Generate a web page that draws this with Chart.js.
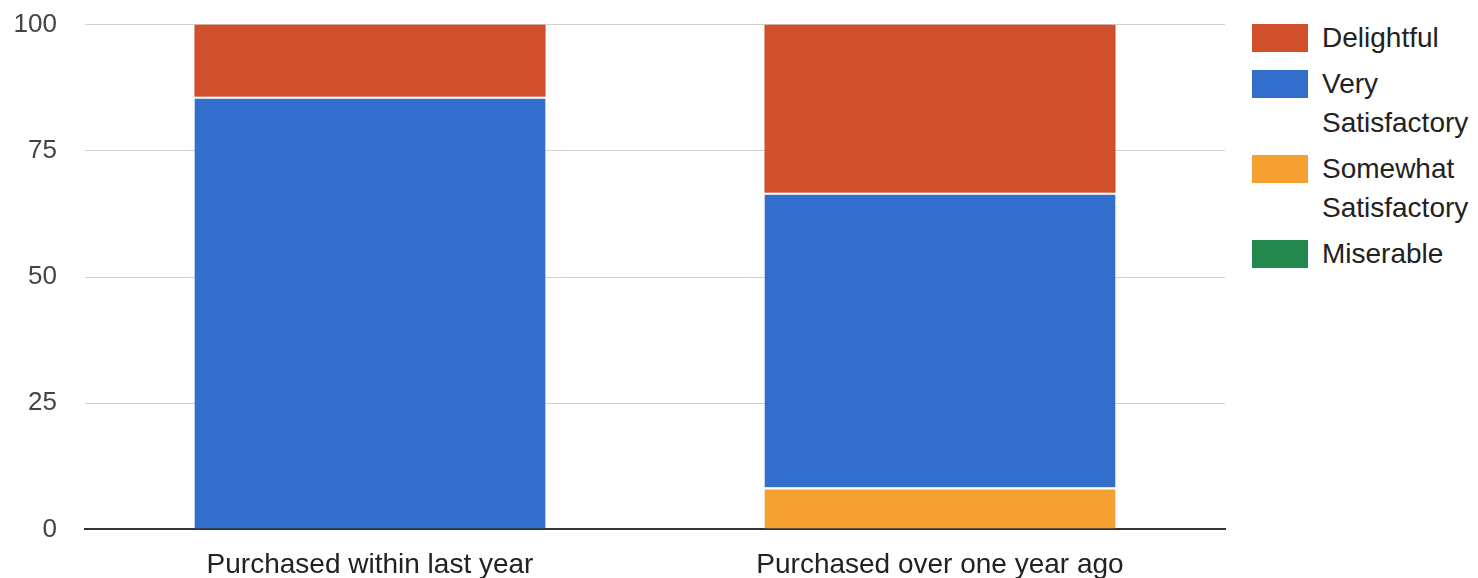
<!DOCTYPE html>
<html>
<head>
<meta charset="utf-8">
<script src="https://cdn.jsdelivr.net/npm/chart.js@4/dist/chart.umd.min.js"></script>
<style>
  body { margin: 0; background: #fff; font-family: "Liberation Sans", Arial, sans-serif; overflow: hidden; }
  #wrap { position: relative; width: 1478px; height: 578px; overflow: hidden; }
  #box { position: absolute; left: 0; top: -19px; width: 1240px; height: 620px; }
  #legend { position: absolute; left: 1252px; top: 18px; font-size: 28px; color: #222; line-height: 39px; }
  .item { display: flex; align-items: flex-start; margin-bottom: 7px; }
  .sw { width: 56px; height: 28px; margin-top: 6px; margin-right: 14px; flex: none; }
  .lbl { width: 170px; }
</style>
</head>
<body>
<div id="wrap">
  <div id="box"><canvas id="chart"></canvas></div>
  <div id="legend"></div>
</div>
<script>
const categories = ["Purchased within last year", "Purchased over one year ago"];
const seriesNames = ["Miserable", "Somewhat Satisfactory", "Very Satisfactory", "Delightful"];
const seriesColors = ["#23884d", "#f4a132", "#336ecc", "#d1502c"];
const miserable = [0, 0];
const somewhat = [0, 8.3];
const verySatisfactory = [85.7, 58.4];
const delightful = [14.3, 33.3];
const yTicks = [0, 25, 50, 75, 100];

const values = [miserable, somewhat, verySatisfactory, delightful];

const ctx = document.getElementById("chart").getContext("2d");
const chart = new Chart(ctx, {
  type: "bar",
  data: {
    labels: categories,
    datasets: seriesNames.map((name, i) => ({
      label: name,
      data: values[i],
      backgroundColor: seriesColors[i],
      borderColor: "#ffffff",
      // thin white line between stacked segments, none on the top one
      borderWidth: { top: i === seriesNames.length - 1 ? 0 : 2, left: 0, right: 0, bottom: 0 },
      borderSkipped: false,
      barPercentage: 0.616,
      categoryPercentage: 1.0
    }))
  },
  options: {
    responsive: true,
    maintainAspectRatio: false,
    animation: false,
    layout: { padding: { top: 14, right: 15, left: 0, bottom: 0 } },
    plugins: { legend: { display: false }, tooltip: { enabled: false } },
    scales: {
      x: {
        stacked: true,
        grid: { display: false, drawTicks: false },
        border: { display: true, color: "#333", width: 2 },
        ticks: { color: "#222", font: { family: "Liberation Sans", size: 28 }, padding: 19 }
      },
      y: {
        stacked: true,
        min: 0,
        max: 100,
        afterBuildTicks: (axis) => { axis.ticks = yTicks.map(v => ({ value: v })); },
        afterFit: (axis) => { axis.width = 85; },
        grid: {
          drawTicks: false,
          color: (c) => c.tick && c.tick.value === 0 ? "#333" : "#d0d0d0",
          lineWidth: (c) => c.tick && c.tick.value === 0 ? 2 : 1
        },
        border: { display: false },
        ticks: { color: "#444", font: { family: "Liberation Sans", size: 26 }, padding: 28 }
      }
    }
  }
});

// legend, top series first, with wrapped labels
const legend = document.getElementById("legend");
for (let i = seriesNames.length - 1; i >= 0; i--) {
  const item = document.createElement("div");
  item.className = "item";
  item.innerHTML = '<div class="sw" style="background:' + seriesColors[i] + '"></div><div class="lbl">' + seriesNames[i] + '</div>';
  legend.appendChild(item);
}
</script>
</body>
</html>
